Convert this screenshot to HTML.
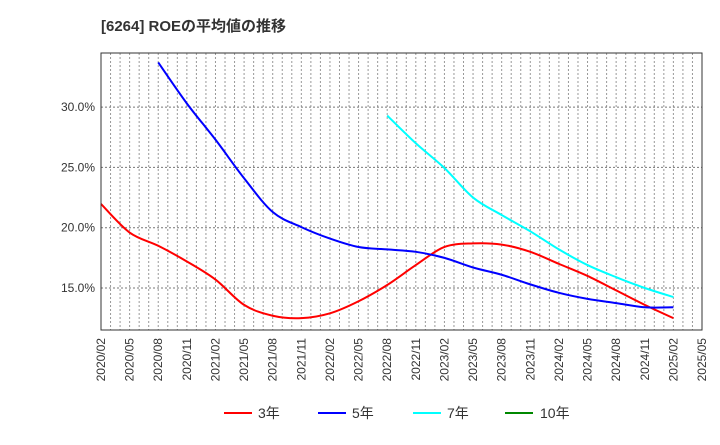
<!DOCTYPE html>
<html><head><meta charset="utf-8"><style>
body{margin:0;background:#fff;font-family:"Liberation Sans","Noto Sans CJK JP",sans-serif}
</style></head><body>
<svg id="c" width="720" height="440" xmlns="http://www.w3.org/2000/svg" style="font-family:'Liberation Sans','Noto Sans CJK JP',sans-serif">
<text x="101" y="31" font-size="15" font-weight="bold" fill="#333">[6264]  ROEの平均値の推移</text>
<g id="grid"></g><g id="series"></g><g id="axes"></g>
<g font-size="14" fill="#333">
<g><line x1="224" y1="413" x2="252" y2="413" stroke="#f00" stroke-width="2"/><text x="258" y="418">3年</text></g>
<g><line x1="318" y1="413" x2="346" y2="413" stroke="#00f" stroke-width="2"/><text x="352" y="418">5年</text></g>
<g><line x1="413" y1="413" x2="441" y2="413" stroke="#0ff" stroke-width="2"/><text x="447" y="418">7年</text></g>
<g><line x1="505" y1="413" x2="533" y2="413" stroke="#080" stroke-width="2"/><text x="540" y="418">10年</text></g>
</g>
</svg>
<script>
const xLabels=["2020/02","2020/05","2020/08","2020/11","2021/02","2021/05","2021/08","2021/11","2022/02","2022/05","2022/08","2022/11","2023/02","2023/05","2023/08","2023/11","2024/02","2024/05","2024/08","2024/11","2025/02","2025/05"];
const yTicks=[15,20,25,30];
const s3Start=0;
const s3=[21.97,19.6,18.5,17.2,15.7,13.6,12.7,12.5,12.9,13.9,15.25,16.9,18.4,18.7,18.6,18.0,17.0,16.0,14.8,13.6,12.5];
const s5Start=2;
const s5=[33.7,30.3,27.3,24.1,21.3,20.05,19.1,18.4,18.2,18.0,17.5,16.7,16.1,15.3,14.6,14.1,13.75,13.4,13.4];
const s7Start=10;
const s7=[29.3,27.0,24.95,22.5,21.05,19.7,18.2,16.9,15.9,15.0,14.25];
const L=101,R=702,T=53,B=330;
const NS="http://www.w3.org/2000/svg";
const xm=m=>L+(R-L)*m/63;
const xq=q=>xm(q*3);
const y=v=>288-(v-15)*12.06;
function mk(t,a,p){const e=document.createElementNS(NS,t);for(const k in a)e.setAttribute(k,a[k]);p.appendChild(e);return e;}
const g=document.getElementById('grid'),ax=document.getElementById('axes'),sr=document.getElementById('series');
for(let m=1;m<63;m++){const l=mk('line',{x1:xm(m),x2:xm(m),y1:T,y2:B,stroke:'#999','stroke-width':1,'stroke-dasharray':'2,2'},g);

}
yTicks.forEach(v=>{const l=mk('line',{x1:L,x2:R,y1:y(v),y2:y(v),stroke:'#777','stroke-width':1,'stroke-dasharray':'2,2'},g);


const t=mk('text',{x:L-6,y:y(v)+4,'text-anchor':'end','font-size':12,fill:'#333'},ax);t.textContent=v.toFixed(1)+'%';

});
const fr=mk('rect',{x:L,y:T,width:R-L,height:B-T,fill:'none',stroke:'#333','stroke-width':1},ax);


xLabels.forEach((s,i)=>{const x=xq(i);const t=mk('text',{x:0,y:0,transform:`translate(${x+4},${B+8}) rotate(-90)`,'text-anchor':'end','font-size':12,fill:'#333'},ax);t.textContent=s;

});
function path(arr,start){const p=arr.map((v,i)=>[xq(start+i),y(v)]);let d=`M${p[0][0]},${p[0][1]}`;
for(let i=0;i<p.length-1;i++){const p0=p[i-1]||p[i],p1=p[i],p2=p[i+1],p3=p[i+2]||p2;
d+=` C${p1[0]+(p2[0]-p0[0])/6},${p1[1]+(p2[1]-p0[1])/6} ${p2[0]-(p3[0]-p1[0])/6},${p2[1]-(p3[1]-p1[1])/6} ${p2[0]},${p2[1]}`;}return d;}
[[s3,s3Start,'#f00','series-3y'],[s5,s5Start,'#00f','series-5y'],[s7,s7Start,'#0ff','series-7y']].forEach(([a,s,c,n])=>{
const e=mk('path',{d:path(a,s),fill:'none',stroke:c,'stroke-width':2},sr);

});
</script>
</body></html>
